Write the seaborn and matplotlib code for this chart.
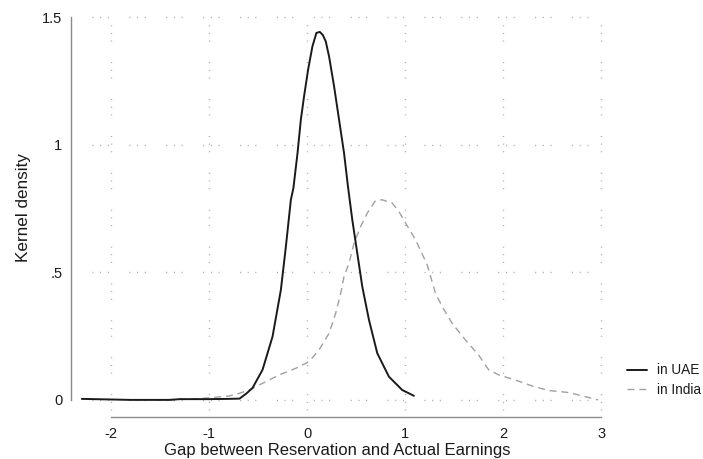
import numpy as np
import pandas as pd
import matplotlib
matplotlib.use("Agg")
import matplotlib.pyplot as plt
import seaborn as sns

# ---- data ----
uae_x = [-2.30, -2.05, -1.80, -1.40, -1.30, -1.00, -0.80, -0.69, -0.62, -0.557, -0.455,
         -0.353, -0.268, -0.217, -0.166, -0.14, -0.098, -0.064, -0.031, 0.01, 0.054,
         0.095, 0.129, 0.16, 0.19, 0.224, 0.275, 0.326, 0.377, 0.417, 0.461, 0.512,
         0.563, 0.631, 0.716, 0.835, 0.97, 1.09]
uae_y = [0.004, 0.002, 0.0, 0.0, 0.003, 0.003, 0.004, 0.005, 0.025, 0.047, 0.118,
         0.248, 0.431, 0.60, 0.784, 0.83, 0.967, 1.098, 1.19, 1.294, 1.385,
         1.438, 1.442, 1.43, 1.405, 1.346, 1.229, 1.098, 0.967, 0.836, 0.706, 0.575,
         0.444, 0.314, 0.183, 0.091, 0.039, 0.016]

india_x = [-1.55, -1.20, -1.00, -0.80, -0.70, -0.59, -0.455, -0.285, -0.115, 0.02,
           0.122, 0.224, 0.292, 0.343, 0.377, 0.428, 0.479, 0.547, 0.614, 0.70,
           0.767, 0.869, 0.937, 1.005, 1.107, 1.225, 1.31, 1.378, 1.48, 1.616,
           1.75, 1.853, 1.955, 2.125, 2.294, 2.464, 2.668, 2.838, 2.97]
india_y = [0.0, 0.003, 0.008, 0.015, 0.025, 0.039, 0.065, 0.098, 0.124, 0.15,
           0.196, 0.261, 0.34, 0.418, 0.484, 0.536, 0.614, 0.68, 0.732, 0.782,
           0.784, 0.771, 0.738, 0.693, 0.627, 0.53, 0.418, 0.366, 0.30, 0.235,
           0.176, 0.118, 0.098, 0.078, 0.055, 0.037, 0.029, 0.013, 0.0]

x_ticks = [-2, -1, 0, 1, 2, 3]
x_ticklabels = ["-2", "-1", "0", "1", "2", "3"]
y_ticks = [0, 0.5, 1, 1.5]
y_ticklabels = ["0", ".5", "1", "1.5"]
series_labels = ["in UAE", "in India"]

sns.set_style("white")
plt.rcParams["font.family"] = ["Liberation Sans", "DejaVu Sans"]

W, H = 703, 459
fig = plt.figure(figsize=(W / 100, H / 100), dpi=100)
L, R, T, B = 71, 603, 12, 417
ax = fig.add_axes([L / W, 1 - B / H, (R - L) / W, (B - T) / H])
ax.set_xlim(-2.41, 3.02)
ax.set_ylim(-0.067, 1.52)

# grid (dotted, Stata style)
gkw = dict(color="#a6a6a6", lw=1.0, dashes=(0.72, 4.8, 0.72, 4.8, 0.72, 14.8),
           zorder=0, solid_capstyle="butt", dash_capstyle="butt")
for yv in y_ticks:
    ax.plot([-2.2, 3.0], [yv, yv], **gkw)
for xv in x_ticks:
    ax.plot([xv, xv], [-0.04, 1.5], **gkw)

df_uae = pd.DataFrame({"x": uae_x, "y": uae_y})
df_ind = pd.DataFrame({"x": india_x, "y": india_y})
sns.lineplot(data=df_uae, x="x", y="y", ax=ax, color="#1a1a1a", lw=1.4,
             sort=False, estimator=None, label=series_labels[0], zorder=3)
sns.lineplot(data=df_ind, x="x", y="y", ax=ax, color="#a0a0a0", lw=1.0,
             sort=False, estimator=None, label=series_labels[1], zorder=2,
             dashes=False)
ax.lines[-1].set_dashes((5, 3.5))

# spines
for s in ["top", "right"]:
    ax.spines[s].set_visible(False)
spc = "#8c8c8c"
ax.spines["left"].set_bounds(0, 1.5)
ax.spines["bottom"].set_bounds(-2, 3)
for s in ["left", "bottom"]:
    ax.spines[s].set_color(spc)
    ax.spines[s].set_linewidth(1.0)

ax.set_xticks(x_ticks)
ax.set_xticklabels(x_ticklabels)
ax.set_yticks(y_ticks)
ax.set_yticklabels(y_ticklabels)
ax.tick_params(axis="both", length=4.3, width=1.0, color=spc, labelsize=10.5,
               labelcolor="#1a1a1a", direction="out", pad=2)
ax.tick_params(axis="x", pad=3)

ax.set_xlabel("Gap between Reservation and Actual Earnings", fontsize=12,
              color="#1a1a1a", labelpad=1.5)
ax.set_ylabel("Kernel density", fontsize=12.3, color="#1a1a1a", labelpad=8)
ax.yaxis.label.set_y((B - 208) / (B - T))

ax.get_legend().remove()
handles = [ax.lines[-2], ax.lines[-1]]
fig.legend(handles, series_labels, loc="center left",
           bbox_to_anchor=(627 / W, 1 - 380 / H), frameon=False,
           borderpad=0, borderaxespad=0, handlelength=1.45,
           handletextpad=0.72, labelspacing=0.38, fontsize=9.8,
           labelcolor="#1a1a1a")

fig.savefig("out.png", dpi=100)
